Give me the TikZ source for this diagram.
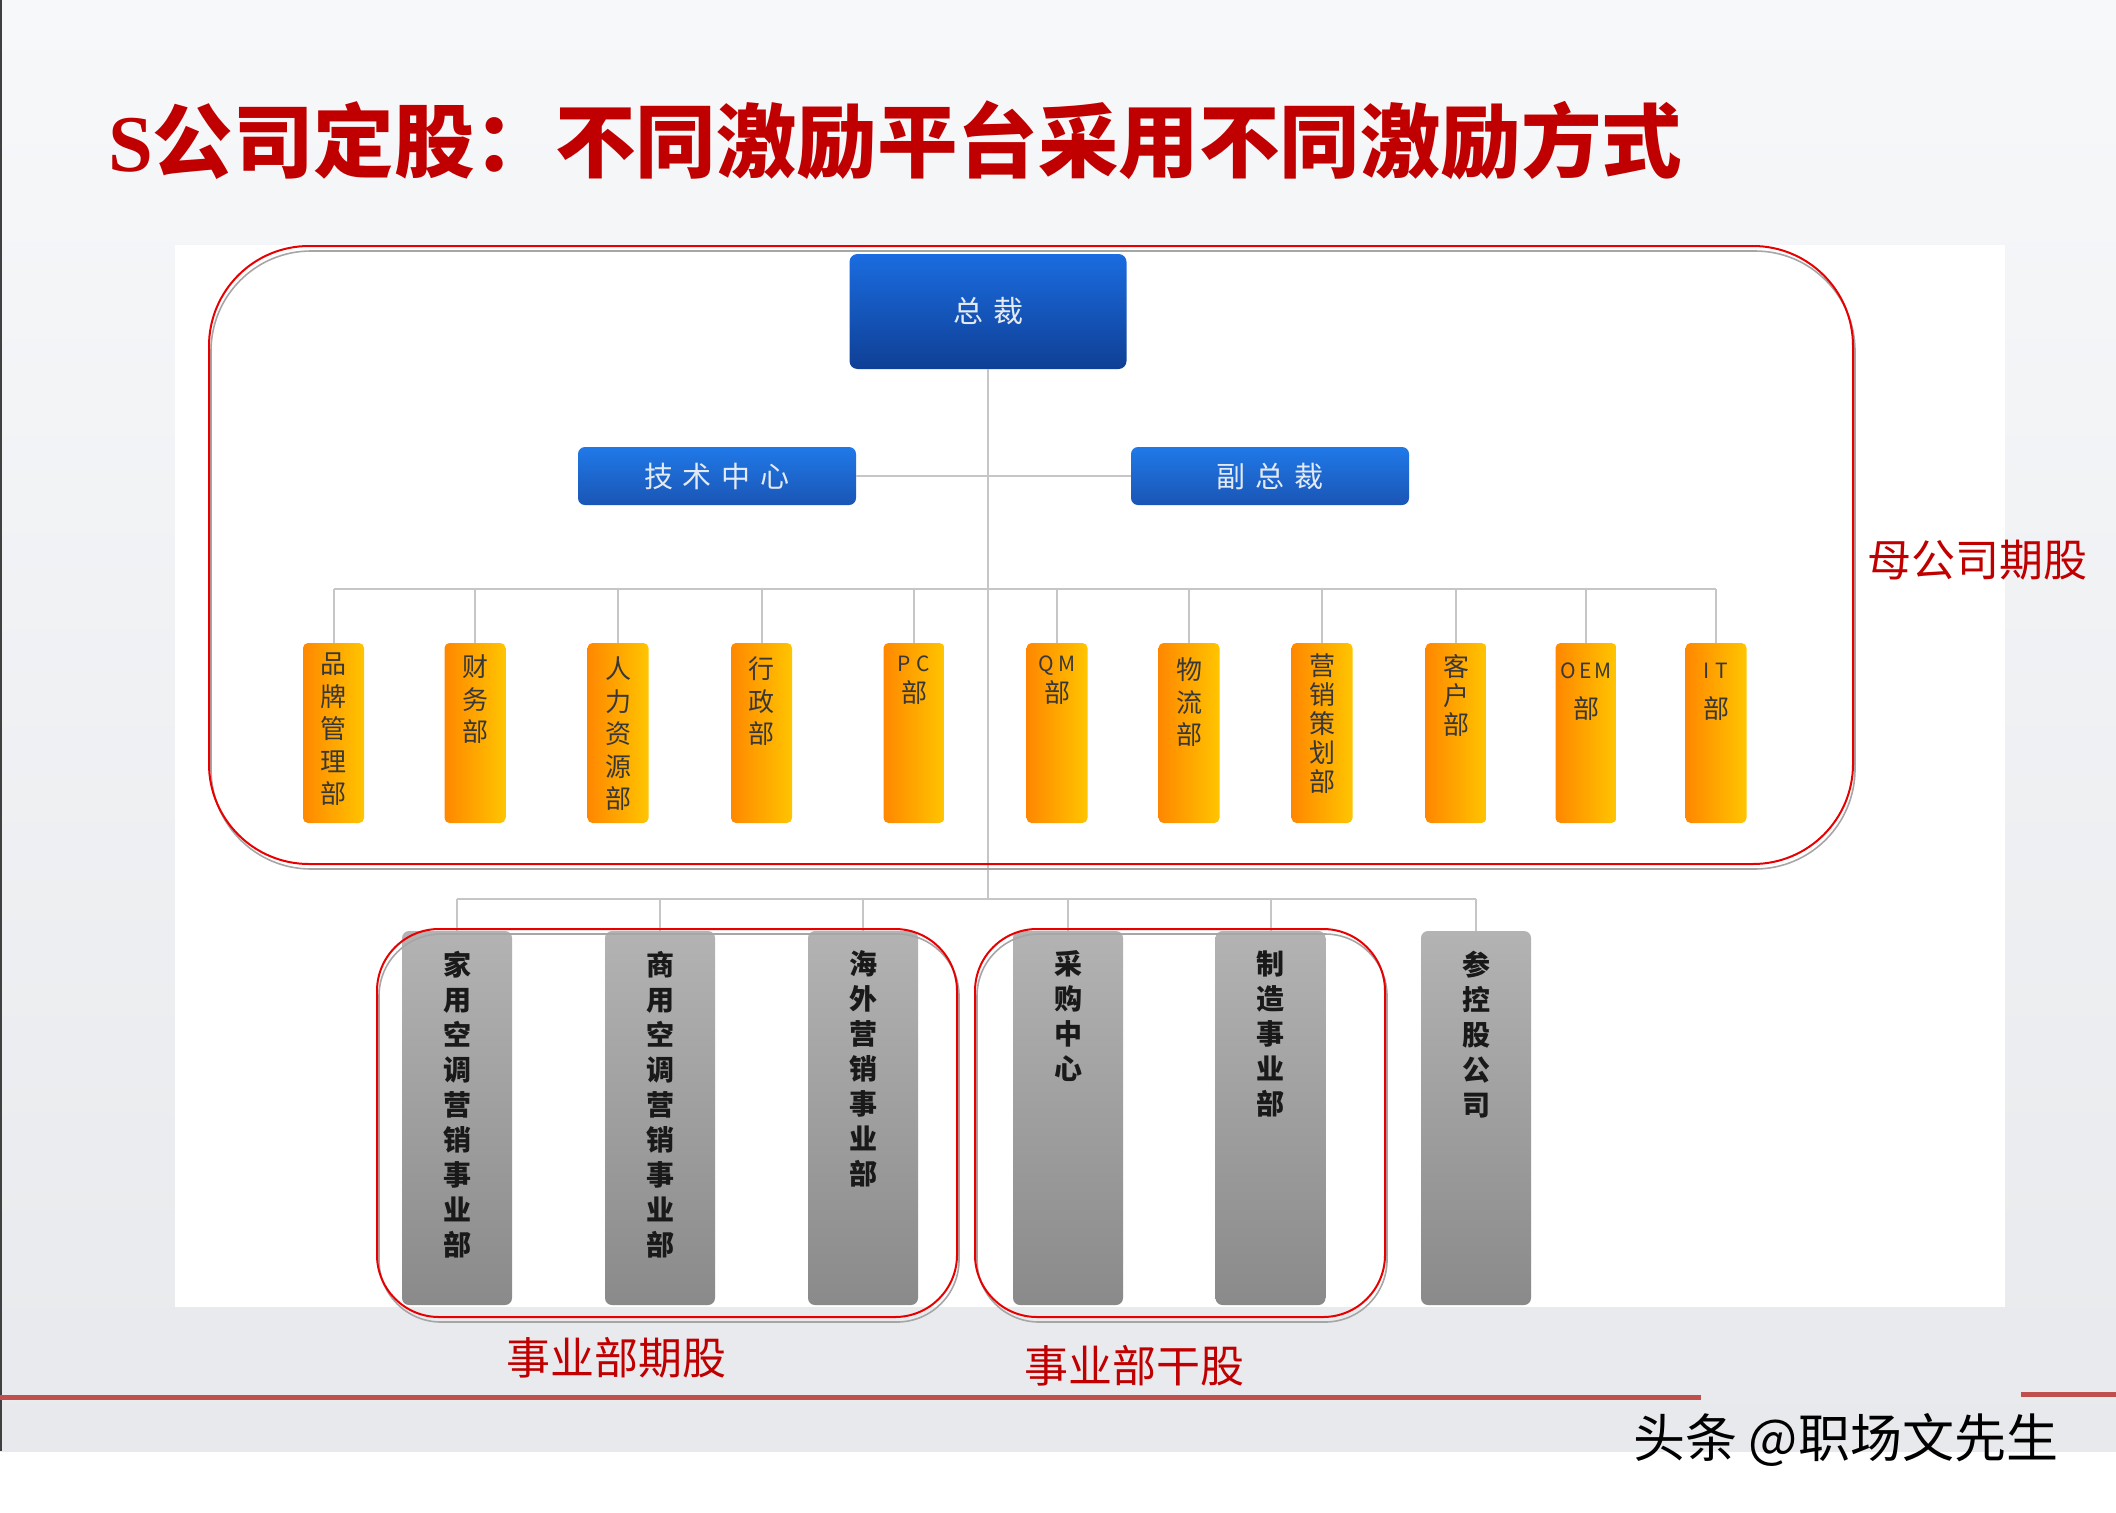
\documentclass[tikz,border=0pt]{standalone}
\usepackage{fontspec}
\newfontfamily\cjk{Noto Sans CJK SC}
\newfontfamily\latserif{Liberation Serif}
\usetikzlibrary{calc}
\definecolor{tred}{HTML}{C00000}
\definecolor{lred}{HTML}{C0504D}
\definecolor{frred}{HTML}{E80000}
\definecolor{conn}{HTML}{C6C6C6}
\definecolor{bluetop}{HTML}{1A6CE0}
\definecolor{bluebot}{HTML}{0F3F95}
\definecolor{bluetwotop}{HTML}{2079E8}
\definecolor{bluetwobot}{HTML}{1A55B5}
\definecolor{bluetext}{HTML}{E4EAF2}
\definecolor{orL}{HTML}{FF8800}
\definecolor{orR}{HTML}{FFC400}
\definecolor{gTop}{HTML}{B3B3B3}
\definecolor{gMid}{HTML}{979797}
\definecolor{gBot}{HTML}{8A8A8A}
\definecolor{textdark}{HTML}{383838}
\definecolor{bgtop}{HTML}{F7F8FA}
\definecolor{bgbot}{HTML}{E8E9EC}
\tikzset{
  conn/.style={draw=conn, line width=2pt},
  ceobox/.style={draw=none, rounded corners=8pt, top color=bluetop, bottom color=bluebot,
    minimum width=277pt, minimum height=115pt, inner sep=0pt, text=bluetext,
    font=\cjk\fontsize{30}{30}\selectfont},
  bluebox/.style={draw=none, rounded corners=7pt, top color=bluetwotop, bottom color=bluetwobot,
    minimum width=278pt, minimum height=58pt, inner sep=0pt, text=bluetext,
    font=\cjk\fontsize{29}{29}\selectfont},
  obox/.style={draw=none, rounded corners=5pt, left color=orL, right color=orR,
    minimum width=61pt, minimum height=180pt, inner sep=0pt},
  otext/.style={anchor=north, inner sep=0pt, align=center, text=textdark},
  gbox/.style={draw=none, rounded corners=7pt, shading=axis, top color=gTop, middle color=gMid, bottom color=gBot,
    minimum width=110pt, minimum height=374pt, inner sep=0pt},
  gtext/.style={anchor=north, inner sep=0pt, align=center, text=black!90,
    font=\cjk\bfseries\fontsize{28}{35}\selectfont},
  frame/.style={draw=frred, line width=2pt},
  frameshadow/.style={draw=black!35, line width=1.6pt},
  redlabel/.style={text=tred, inner sep=0pt, font=\cjk\fontsize{44}{44}\selectfont},
}
\newcommand\obox[5]{%
  \node[obox] (#1) at (#2,733) {};
  \node[otext, font=\cjk\fontsize{26}{#3}\selectfont] (#1t) at ([yshift=-#4pt]#1.north) {#5};
}
\newcommand\gbox[3]{%
  \node[gbox] (#1) at (#2,1118) {};
  \node[gtext] (#1t) at ([yshift=-20pt]#1.north) {#3};
}
\newcommand\lat[1]{{\fontsize{21}{21}\selectfont #1}}
\begin{document}
\begin{tikzpicture}[x=1pt,y=-1pt]
\useasboundingbox (0,0) rectangle (2116,1512);
% background
\fill[white] (0,0) rectangle (2116,1512);
\fill[top color=bgtop, bottom color=bgbot] (0,0) rectangle (2116,1451);
\fill[white] (175,245) rectangle (2005,1307);
\fill[black!75] (0,0) rectangle (2,1451);
\draw[lred, line width=5pt] (0,1397) -- (1701,1397);
\draw[lred, line width=5pt] (2021,1394) -- (2116,1394);

% title
\node[anchor=west, inner sep=0pt, text=tred, font=\cjk\bfseries\fontsize{80.5}{80.5}\selectfont] (title) at (108,140)
  {{\latserif S}公司定股：不同激励平台采用不同激励方式};

% top nodes
\node[ceobox] (ceo) at (988,311.5) {总\hspace{10pt}裁};
\node[bluebox] (tech) at (717,476) {技\hspace{10pt}术\hspace{10pt}中\hspace{10pt}心};
\node[bluebox] (vp) at (1270,476) {副\hspace{10pt}总\hspace{10pt}裁};

% orange row
\obox{o1}{333.5}{32.5}{10}{品\\牌\\管\\理\\部}
\obox{o2}{475}{32.5}{12}{财\\务\\部}
\obox{o3}{618}{32.5}{14}{人\\力\\资\\源\\部}
\obox{o4}{761.5}{32.5}{14}{行\\政\\部}
\obox{o5}{914}{31}{13}{\lat{P\hspace{6pt}C}\\部}
\obox{o6}{1057}{31}{13}{\lat{Q\hspace{4pt}M}\\部}
\obox{o7}{1189}{32.5}{15}{物\\流\\部}
\obox{o8}{1322}{29}{11}{营\\销\\策\\划\\部}
\obox{o9}{1456}{29}{11}{客\\户\\部}
\obox{o10}{1586}{40}{20}{\lat{O\hspace{3pt}E\hspace{3pt}M}\\部}
\obox{o11}{1716}{40}{20}{\lat{I\hspace{6pt}T}\\部}

% gray row
\gbox{g1}{457}{家\\用\\空\\调\\营\\销\\事\\业\\部}
\gbox{g2}{660}{商\\用\\空\\调\\营\\销\\事\\业\\部}
\gbox{g3}{863}{海\\外\\营\\销\\事\\业\\部}
\gbox{g4}{1068}{采\\购\\中\\心}
\gbox{g5}{1270.5}{制\\造\\事\\业\\部}
\gbox{g6}{1476}{参\\控\\股\\公\\司}

% connectors
\coordinate (j1) at (ceo.south |- tech.east);
\coordinate (j2) at (988,589);
\coordinate (j3) at (988,899);
\draw[conn] (ceo.south) -- (j3);
\draw[conn] (tech.east) -- (vp.west);
\draw[conn] (o1.north |- j2) -- (o11.north |- j2);
\foreach \n in {o1,o2,o3,o4,o5,o6,o7,o8,o9,o10,o11}
  \draw[conn] (\n.north |- j2) -- (\n.north);
\draw[conn] (g1.north |- j3) -- (g6.north |- j3);
\foreach \n in {g1,g2,g3,g4,g5,g6}
  \draw[conn] (\n.north |- j3) -- (\n.north);

% red frames
\draw[frameshadow, rounded corners=100pt] (211,251) rectangle (1855,869);
\draw[frame, rounded corners=100pt] (209,246) rectangle (1853,864);
\draw[frameshadow, rounded corners=62pt] (379,934) rectangle (959,1322);
\draw[frame, rounded corners=62pt] (377,929) rectangle (957,1317);
\draw[frameshadow, rounded corners=62pt] (977,934) rectangle (1387,1322);
\draw[frame, rounded corners=62pt] (975,929) rectangle (1385,1317);

% labels
\node[redlabel] (l1) at (1977,560) {母公司期股};
\node[redlabel] (l2) at (616,1358) {事业部期股};
\node[redlabel] (l3) at (1134,1366) {事业部干股};

% watermark
\node[anchor=west, inner sep=0pt, font=\cjk\fontsize{52}{52}\selectfont] (wm) at (1633,1440) {头条 @职场文先生};
\end{tikzpicture}
\end{document}
